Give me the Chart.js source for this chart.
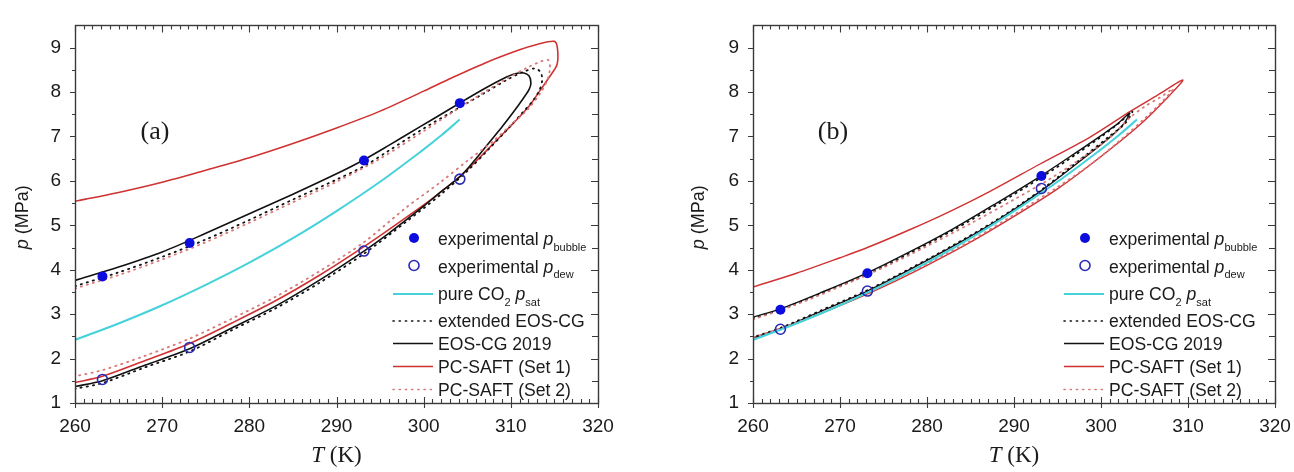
<!DOCTYPE html>
<html>
<head>
<meta charset="utf-8">
<script src="https://cdn.jsdelivr.net/npm/chart.js@4.4.1/dist/chart.umd.min.js"></script>
<style>
  html, body { margin: 0; padding: 0; background: #fff; overflow: hidden; }
  #wrap { position: relative; width: 1294px; height: 472px; overflow: hidden; }
  #ca { position: absolute; left: 0; top: 0; }
  #cb { position: absolute; left: 640px; top: 0; }
</style>
</head>
<body>
<div id="wrap">
  <canvas id="ca" width="640" height="472"></canvas>
  <canvas id="cb" width="680" height="472"></canvas>
</div>
<script>
// ---- axis ticks ----
const X_TICKS = [260, 270, 280, 290, 300, 310, 320];
const Y_TICKS = [1, 2, 3, 4, 5, 6, 7, 8, 9];

// ---- pure CO2 saturation pressure ----
const CO2_SAT_T = [260, 265, 270, 275, 280, 285, 290, 295, 300, 302, 304.13];
const CO2_SAT_P = [2.42, 2.79, 3.20, 3.66, 4.16, 4.71, 5.32, 5.98, 6.71, 7.02, 7.38];

// ---- panel (a): experimental points ----
const A_EXP_T = [263.15, 273.15, 293.15, 304.15];
const A_BUBBLE_P = [3.85, 4.60, 6.46, 7.75];
const A_DEW_P = [1.53, 2.25, 4.42, 6.04];

// ---- panel (a): EOS-CG 2019 phase envelope ----
const A_EOSCG_T = [260, 265, 270, 275, 280, 285, 290, 293, 296, 299.6, 302, 304.2, 307, 309.1, 310.5, 311.5, 312.1, 312.3, 312.1, 311.4, 310.3, 309, 307.5, 306, 304.2, 302, 300, 298, 296, 293.15, 288, 283, 278, 273.15, 268, 263.15, 260];
const A_EOSCG_P = [3.76, 4.06, 4.40, 4.82, 5.26, 5.70, 6.16, 6.46, 6.80, 7.22, 7.50, 7.76, 8.08, 8.30, 8.41, 8.43, 8.36, 8.20, 8.06, 7.85, 7.55, 7.22, 6.86, 6.50, 6.10, 5.76, 5.43, 5.12, 4.82, 4.42, 3.76, 3.18, 2.69, 2.22, 1.85, 1.50, 1.37];

// ---- panel (a): extended EOS-CG ----
const A_EXT_T = [260, 265, 270, 275, 280, 285, 290, 293.15, 296, 300, 304, 307, 309.5, 311.5, 312.8, 313.4, 313.6, 313.3, 312.6, 311.4, 309.8, 307.5, 305, 302, 298, 293.15, 288, 283, 278, 273.15, 268, 263.15, 260];
const A_EXT_P = [3.63, 3.94, 4.29, 4.68, 5.12, 5.58, 6.03, 6.33, 6.68, 7.18, 7.64, 7.98, 8.27, 8.46, 8.53, 8.45, 8.28, 8.05, 7.82, 7.55, 7.20, 6.72, 6.22, 5.70, 5.08, 4.36, 3.70, 3.13, 2.64, 2.16, 1.80, 1.45, 1.32];

// ---- panel (a): PC-SAFT (Set 1) ----
const A_SET1_T = [260, 265, 270, 275, 280, 285, 290, 295, 300, 303, 307, 311, 313, 315.0, 315.35, 315.3, 314.5, 313.3, 312.2, 310.3, 308.4, 306.3, 304.2, 301.1, 298, 293.15, 288, 283, 278, 273.15, 268, 263.15, 260];
const A_SET1_P = [5.54, 5.74, 5.97, 6.24, 6.52, 6.84, 7.19, 7.57, 8.02, 8.30, 8.65, 8.95, 9.07, 9.14, 8.98, 8.62, 8.36, 8.02, 7.71, 7.30, 6.92, 6.50, 6.11, 5.62, 5.18, 4.52, 3.87, 3.30, 2.80, 2.34, 1.95, 1.60, 1.46];

// ---- panel (a): PC-SAFT (Set 2) ----
const A_SET2_T = [260, 265, 270, 275, 280, 285, 290, 295, 300, 305, 309, 312, 313.6, 314.3, 314.5, 314.2, 313.4, 312, 310, 308, 305, 302, 298, 293.15, 288, 283, 278, 273.15, 268, 263.15, 260];
const A_SET2_P = [3.58, 3.88, 4.23, 4.62, 5.06, 5.52, 5.98, 6.50, 7.12, 7.76, 8.24, 8.56, 8.70, 8.72, 8.55, 8.28, 7.98, 7.62, 7.26, 6.90, 6.45, 5.98, 5.40, 4.62, 3.96, 3.39, 2.90, 2.45, 2.06, 1.74, 1.60];

// ---- panel (b): experimental points ----
const B_EXP_T = [263.15, 273.15, 293.15];
const B_BUBBLE_P = [3.10, 3.92, 6.11];
const B_DEW_P = [2.66, 3.52, 5.83];

// ---- panel (b): EOS-CG 2019 ----
const B_EOSCG_T = [260, 263.15, 268, 273.15, 278, 283, 288, 293.15, 297, 300, 302, 303.3, 302.6, 301, 298, 293.15, 288, 283, 278, 273.15, 268, 263.15, 260];
const B_EOSCG_P = [2.93, 3.12, 3.50, 3.93, 4.40, 4.92, 5.50, 6.12, 6.62, 7.02, 7.30, 7.53, 7.28, 6.98, 6.51, 5.78, 5.10, 4.53, 4.00, 3.52, 3.08, 2.67, 2.46];

// ---- panel (b): extended EOS-CG ----
const B_EXT_T = [260, 263.15, 268, 273.15, 278, 283, 288, 293.15, 297, 300, 302, 303.6, 302.8, 301, 298, 293.15, 288, 283, 278, 273.15, 268, 263.15, 260];
const B_EXT_P = [2.91, 3.10, 3.48, 3.90, 4.37, 4.89, 5.46, 6.08, 6.58, 6.99, 7.29, 7.56, 7.30, 7.01, 6.54, 5.80, 5.12, 4.55, 4.02, 3.54, 3.10, 2.69, 2.48];

// ---- panel (b): PC-SAFT (Set 1) ----
const B_SET1_T = [260, 265, 270, 273.15, 278, 282.6, 287.2, 293, 298.7, 303.5, 306.5, 309.4, 307.9, 304.5, 300, 295, 290, 285, 280, 275, 270, 265, 260];
const B_SET1_P = [3.61, 3.92, 4.27, 4.50, 4.90, 5.31, 5.76, 6.38, 6.98, 7.58, 7.93, 8.27, 7.93, 7.27, 6.55, 5.82, 5.20, 4.62, 4.10, 3.62, 3.19, 2.80, 2.47];

// ---- panel (b): PC-SAFT (Set 2) ----
const B_SET2_T = [260, 265, 270, 275, 280, 285, 290, 294, 298, 301, 303.3, 305, 306.8, 308.3, 307.2, 305, 302, 299, 295, 290, 285, 280, 275, 270, 265, 260];
const B_SET2_P = [2.88, 3.22, 3.62, 4.05, 4.53, 5.04, 5.58, 6.03, 6.54, 6.97, 7.42, 7.67, 7.88, 8.07, 7.82, 7.40, 6.88, 6.40, 5.86, 5.24, 4.65, 4.13, 3.65, 3.21, 2.81, 2.47];

// ---- styles ----
const C_BLACK = '#111111';
const C_RED = '#d03232';
const C_PINK = '#d8787a';
const C_CYAN = '#45d2da';
const C_BLUE = '#0c0cdc';
const C_BLUE_RING = '#2a2ab4';
const SANS = '"Liberation Sans", Arial, Helvetica, sans-serif';
const SERIF = '"Liberation Serif", "Times New Roman", serif';
const DOT = [1.2, 5];

const toXY = (T, P) => T.map((t, i) => ({ x: t, y: P[i] }));

function lineSet(label, T, P, color, dash, width) {
  return {
    label, data: toXY(T, P), showLine: true, pointRadius: 0, pointHoverRadius: 0,
    borderColor: color, backgroundColor: color, borderWidth: width || 1.6,
    borderDash: dash || [], borderCapStyle: dash ? 'round' : 'butt',
    tension: 0.3, fill: false, order: 5
  };
}
function pointSet(label, T, P, filled) {
  return {
    label, data: toXY(T, P), showLine: false, pointRadius: 5, pointHoverRadius: 5,
    pointStyle: 'circle',
    pointBackgroundColor: filled ? C_BLUE : 'rgba(255,255,255,0)',
    pointBorderColor: filled ? C_BLUE : C_BLUE_RING,
    pointBorderWidth: filled ? 0 : 1.6, order: 1
  };
}

// draws text runs with normal / italic / subscript parts
function setRunFont(ctx, s, size) {
  if (s.k === 'sub') ctx.font = Math.round(size * 0.64) + 'px ' + SANS;
  else if (s.k === 'i') ctx.font = 'italic ' + size + 'px ' + SANS;
  else ctx.font = size + 'px ' + SANS;
}
function drawRich(ctx, segs, x, y, size) {
  for (const s of segs) {
    setRunFont(ctx, s, size);
    ctx.fillText(s.t, x, y + (s.k === 'sub' ? size * 0.32 : 0));
    x += ctx.measureText(s.t).width;
  }
  return x;
}
function richWidth(ctx, segs, size) {
  let w = 0;
  for (const s of segs) { setRunFont(ctx, s, size); w += ctx.measureText(s.t).width; }
  return w;
}

const LEGEND_ROWS = [
  { sym: 'fill', segs: [{ t: 'experimental ' }, { t: 'p', k: 'i' }, { t: 'bubble', k: 'sub' }] },
  { sym: 'open', segs: [{ t: 'experimental ' }, { t: 'p', k: 'i' }, { t: 'dew', k: 'sub' }] },
  { sym: 'line', color: C_CYAN, width: 2, segs: [{ t: 'pure CO' }, { t: '2', k: 'sub' }, { t: ' ' }, { t: 'p', k: 'i' }, { t: 'sat', k: 'sub' }] },
  { sym: 'line', color: C_BLACK, dash: DOT, width: 1.6, segs: [{ t: 'extended EOS-CG' }] },
  { sym: 'line', color: C_BLACK, width: 1.6, segs: [{ t: 'EOS-CG 2019' }] },
  { sym: 'line', color: C_RED, width: 1.6, segs: [{ t: 'PC-SAFT (Set 1)' }] },
  { sym: 'line', color: C_PINK, dash: DOT, width: 1.6, segs: [{ t: 'PC-SAFT (Set 2)' }] }
];
const LEGEND_Y = [240, 267.5, 295, 322, 344.5, 367.5, 390.5];

// frame, inward/outward tick marks, titles, panel tag and legend
const panelDeco = {
  id: 'panelDeco',
  afterDatasetsDraw(chart, args, opts) {
    const { ctx, chartArea: a } = chart;
    const xs = chart.scales.x, ys = chart.scales.y;
    ctx.save();
    ctx.strokeStyle = '#3a3a3a';
    ctx.lineWidth = 1.4;
    ctx.strokeRect(Math.round(a.left) + 0.5, Math.round(a.top) + 0.5, Math.round(a.right - a.left), Math.round(a.bottom - a.top));

    ctx.lineWidth = 1.1;
    ctx.beginPath();
    for (let i = 0; i < X_TICKS.length; i++) {
      const px = Math.round(xs.getPixelForValue(X_TICKS[i])) + 0.5;
      ctx.moveTo(px, a.bottom + 5); ctx.lineTo(px, a.bottom - 6);
      ctx.moveTo(px, a.top); ctx.lineTo(px, a.top + 7);
      if (i < X_TICKS.length - 1) {
        const step = (X_TICKS[i + 1] - X_TICKS[i]) / 10;
        for (let k = 1; k < 10; k++) {
          const mx = Math.round(xs.getPixelForValue(X_TICKS[i] + k * step)) + 0.5;
          ctx.moveTo(mx, a.bottom); ctx.lineTo(mx, a.bottom - 4);
          ctx.moveTo(mx, a.top); ctx.lineTo(mx, a.top + 4);
        }
      }
    }
    for (let i = 0; i < Y_TICKS.length; i++) {
      const py = Math.round(ys.getPixelForValue(Y_TICKS[i])) + 0.5;
      ctx.moveTo(a.left - 5, py); ctx.lineTo(a.left, py);
      ctx.moveTo(a.right, py); ctx.lineTo(a.right - 7, py);
      const half = Y_TICKS[i] + 0.5;
      if (half < ys.max) {
        const my = Math.round(ys.getPixelForValue(half)) + 0.5;
        ctx.moveTo(a.left - 3, my); ctx.lineTo(a.left, my);
        ctx.moveTo(a.right, my); ctx.lineTo(a.right - 6, my);
      }
    }
    ctx.stroke();

    ctx.fillStyle = '#1a1a1a';
    ctx.textBaseline = 'alphabetic';
    ctx.textAlign = 'left';

    // x-axis title: T (K)
    const cx = (a.left + a.right) / 2;
    ctx.font = 'italic 23px ' + SERIF;
    const wT = ctx.measureText('T').width;
    ctx.font = '23px ' + SERIF;
    const wK = ctx.measureText(' (K)').width;
    const sx = cx - (wT + wK) / 2;
    ctx.font = 'italic 23px ' + SERIF;
    ctx.fillText('T', sx, 462);
    ctx.font = '23px ' + SERIF;
    ctx.fillText(' (K)', sx + wT, 462);

    // y-axis title: p (MPa)
    ctx.save();
    ctx.translate(a.left - opts.yTitleOffset, (a.top + a.bottom) / 2 + 3);
    ctx.rotate(-Math.PI / 2);
    const ySegs = [{ t: 'p', k: 'i' }, { t: ' (MPa)' }];
    const wy = richWidth(ctx, ySegs, 18);
    drawRich(ctx, ySegs, -wy / 2, 0, 18);
    ctx.restore();

    // panel tag
    ctx.font = '26px ' + SERIF;
    ctx.textAlign = 'center';
    ctx.fillText(opts.tag, a.left + 80, a.top + 114);
    ctx.textAlign = 'left';

    // legend
    const tx = a.right - opts.legendInset;
    LEGEND_ROWS.forEach((r, i) => {
      const yy = LEGEND_Y[i];
      if (r.sym === 'fill' || r.sym === 'open') {
        ctx.beginPath();
        ctx.arc(tx - 24, yy - 2, 5, 0, Math.PI * 2);
        if (r.sym === 'fill') { ctx.fillStyle = C_BLUE; ctx.fill(); }
        else { ctx.strokeStyle = C_BLUE_RING; ctx.lineWidth = 1.6; ctx.stroke(); }
      } else {
        ctx.beginPath();
        ctx.strokeStyle = r.color;
        ctx.lineWidth = r.width;
        ctx.setLineDash(r.dash || []);
        ctx.lineCap = r.dash ? 'round' : 'butt';
        ctx.moveTo(tx - 45, yy - 1); ctx.lineTo(tx - 5, yy - 1);
        ctx.stroke();
        ctx.setLineDash([]);
      }
      ctx.fillStyle = '#1a1a1a';
      drawRich(ctx, r.segs, tx, yy + 5, 17.6);
    });
    ctx.restore();
  }
};

function makePanel(id, cfg) {
  return new Chart(document.getElementById(id), {
    type: 'scatter',
    data: { datasets: cfg.datasets },
    options: {
      responsive: false,
      animation: false,
      events: [],
      layout: { padding: { top: 15, right: cfg.padRight, left: 0, bottom: 0 } },
      plugins: {
        legend: { display: false },
        tooltip: { enabled: false },
        panelDeco: { tag: cfg.tag, yTitleOffset: cfg.yTitleOffset, legendInset: cfg.legendInset }
      },
      scales: {
        x: {
          type: 'linear', min: 260, max: 320,
          afterBuildTicks: s => { s.ticks = X_TICKS.map(v => ({ value: v })); },
          afterFit: s => { s.height = 69; },
          grid: { display: false, drawTicks: false },
          border: { display: false },
          ticks: { color: '#1a1a1a', font: { family: SANS, size: 19 }, padding: 12, maxRotation: 0, autoSkip: false }
        },
        y: {
          type: 'linear', min: 1, max: 9.5,
          afterBuildTicks: s => { s.ticks = Y_TICKS.map(v => ({ value: v })); },
          afterFit: s => { s.width = cfg.yWidth; },
          grid: { display: false, drawTicks: false },
          border: { display: false },
          ticks: { color: '#1a1a1a', font: { family: SANS, size: 19 }, padding: 14, autoSkip: false }
        }
      }
    },
    plugins: [panelDeco]
  });
}

makePanel('ca', {
  tag: '(a)', padRight: 42, yWidth: 75, yTitleOffset: 47, legendInset: 160,
  datasets: [
    pointSet('experimental p bubble', A_EXP_T, A_BUBBLE_P, true),
    pointSet('experimental p dew', A_EXP_T, A_DEW_P, false),
    lineSet('pure CO2 p sat', CO2_SAT_T, CO2_SAT_P, C_CYAN, null, 2),
    lineSet('PC-SAFT (Set 2)', A_SET2_T, A_SET2_P, C_PINK, DOT, 1.8),
    lineSet('extended EOS-CG', A_EXT_T, A_EXT_P, C_BLACK, DOT, 1.8),
    lineSet('EOS-CG 2019', A_EOSCG_T, A_EOSCG_P, C_BLACK, null, 1.6),
    lineSet('PC-SAFT (Set 1)', A_SET1_T, A_SET1_P, C_RED, null, 1.6)
  ]
});

makePanel('cb', {
  tag: '(b)', padRight: 45, yWidth: 113, yTitleOffset: 49, legendInset: 166,
  datasets: [
    pointSet('experimental p bubble', B_EXP_T, B_BUBBLE_P, true),
    pointSet('experimental p dew', B_EXP_T, B_DEW_P, false),
    lineSet('pure CO2 p sat', CO2_SAT_T, CO2_SAT_P, C_CYAN, null, 2),
    lineSet('PC-SAFT (Set 2)', B_SET2_T, B_SET2_P, C_PINK, DOT, 1.8),
    lineSet('extended EOS-CG', B_EXT_T, B_EXT_P, C_BLACK, DOT, 1.8),
    lineSet('EOS-CG 2019', B_EOSCG_T, B_EOSCG_P, C_BLACK, null, 1.4),
    lineSet('PC-SAFT (Set 1)', B_SET1_T, B_SET1_P, C_RED, null, 1.4)
  ]
});
</script>
</body>
</html>
